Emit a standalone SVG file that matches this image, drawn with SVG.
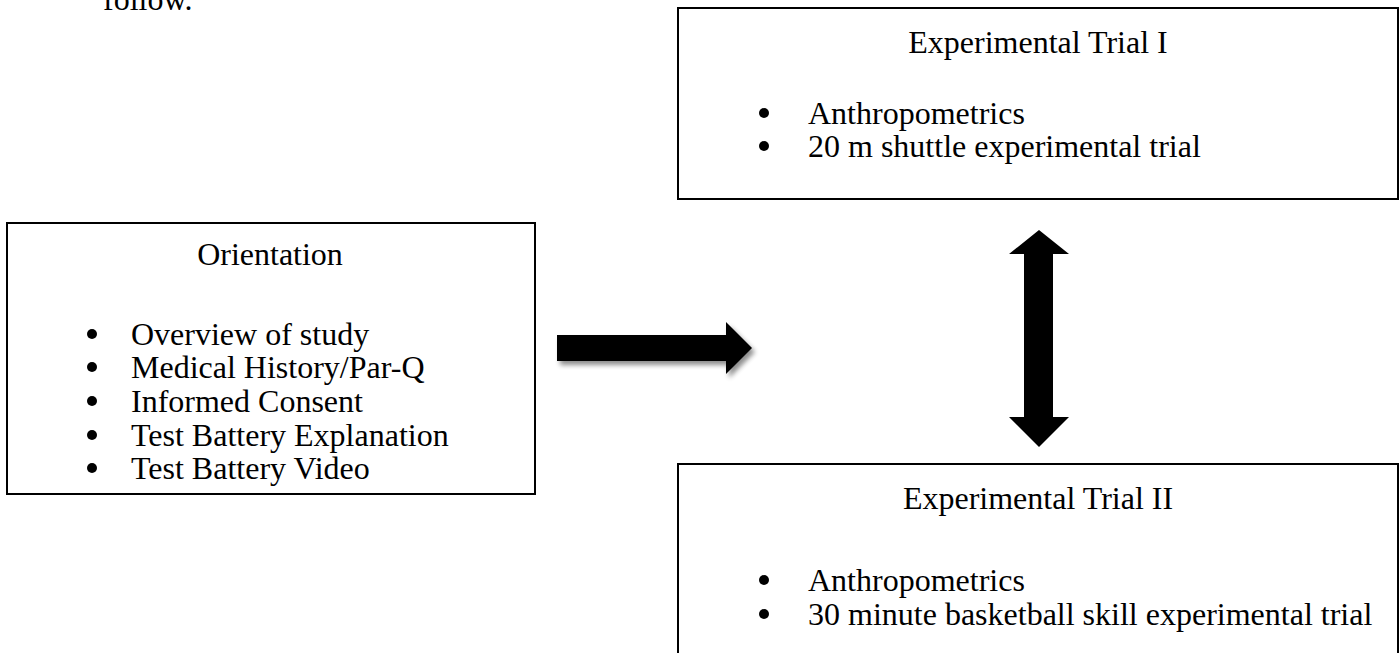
<svg xmlns="http://www.w3.org/2000/svg" width="1400" height="653" viewBox="0 0 1400 653">
<defs>
<style>
.box{fill:#fff;stroke:#000;stroke-width:2}
.t{font-family:"Liberation Serif","Times New Roman",serif;font-size:32px;fill:#000}
.c{text-anchor:middle}
.b{fill:#000}
.arr{fill:#000}
</style>
<filter id="sh" x="-20%" y="-50%" width="140%" height="200%">
<feGaussianBlur in="SourceAlpha" stdDeviation="2.5"/>
<feOffset dx="3" dy="4" result="o"/>
<feComponentTransfer><feFuncA type="linear" slope="0.45"/></feComponentTransfer>
<feMerge><feMergeNode/><feMergeNode in="SourceGraphic"/></feMerge>
</filter>
</defs>
<rect width="1400" height="653" fill="#fff"/>
<text class="t" x="103" y="10">follow.</text>
<g id="orientation">
<rect class="box" x="7" y="223" width="528" height="271"/>
<text class="t c" x="270" y="265">Orientation</text>
<circle class="b" cx="92" cy="334" r="5"/>
<text class="t" x="131" y="345">Overview of study</text>
<circle class="b" cx="92" cy="367" r="5"/>
<text class="t" x="131" y="378">Medical History/Par-Q</text>
<circle class="b" cx="92" cy="401" r="5"/>
<text class="t" x="131" y="412">Informed Consent</text>
<circle class="b" cx="92" cy="435" r="5"/>
<text class="t" x="131" y="446">Test Battery Explanation</text>
<circle class="b" cx="92" cy="468" r="5"/>
<text class="t" x="131" y="479">Test Battery Video</text>
</g>
<g id="trial1">
<rect class="box" x="678" y="8" width="720" height="191"/>
<text class="t c" x="1038" y="53">Experimental Trial I</text>
<circle class="b" cx="764" cy="113" r="5"/>
<text class="t" x="808" y="124">Anthropometrics</text>
<circle class="b" cx="764" cy="146" r="5"/>
<text class="t" x="808" y="157">20 m shuttle experimental trial</text>
</g>
<g id="trial2">
<rect class="box" x="678" y="464" width="720" height="200"/>
<text class="t c" x="1038" y="509">Experimental Trial II</text>
<circle class="b" cx="764" cy="580" r="5"/>
<text class="t" x="808" y="591">Anthropometrics</text>
<circle class="b" cx="764" cy="614" r="5"/>
<text class="t" x="808" y="625">30 minute basketball skill experimental trial</text>
</g>
<g id="connectors">
<path class="arr" filter="url(#sh)" d="M557,335 L726,335 L726,322 L752,348 L726,374 L726,361 L557,361 Z"/>
<path class="arr" d="M1039,230 L1069,254 L1053,254 L1053,417 L1069,417 L1039,447 L1009,417 L1024,417 L1024,254 L1009,254 Z"/>
</g>
</svg>
